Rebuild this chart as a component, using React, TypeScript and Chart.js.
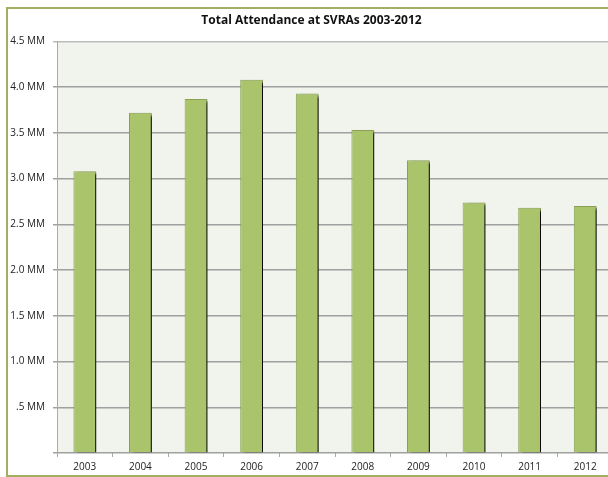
import React, { useEffect, useRef } from "react";
import { Chart, registerables } from "chart.js";

Chart.register(...registerables);

const categories = ["2003", "2004", "2005", "2006", "2007", "2008", "2009", "2010", "2011", "2012"];
const attendanceMM = [3.08, 3.72, 3.87, 4.08, 3.93, 3.53, 3.2, 2.74, 2.68, 2.7];
const yTickLabels = ["", ".5 MM", "1.0 MM", "1.5 MM", "2.0 MM", "2.5 MM", "3.0 MM", "3.5 MM", "4.0 MM", "4.5 MM"];
const titleText = "Total Attendance at SVRAs 2003-2012";

const FONT = "'Open Sans', 'Noto Sans', sans-serif";
const CANVAS_W = 700;

const plotBg = {
  id: "plotBg",
  beforeDraw(chart: any) {
    const { ctx, chartArea } = chart;
    ctx.save();
    ctx.fillStyle = "#f1f3ed";
    ctx.fillRect(chartArea.left, chartArea.top, chart.width - chartArea.left, chartArea.bottom - chartArea.top);
    ctx.restore();
  },
  afterDraw(chart: any) {
    const ctx = chart.ctx;
    ctx.save();
    ctx.strokeStyle = "#a4ae62";
    ctx.lineWidth = 2;
    ctx.beginPath();
    ctx.moveTo(chart.width + 10, 8);
    ctx.lineTo(7, 8);
    ctx.lineTo(7, 476);
    ctx.lineTo(chart.width + 10, 476);
    ctx.stroke();
    ctx.restore();
  },
};

const barShadow = {
  id: "barShadow",
  beforeDatasetsDraw(chart: any) {
    const ctx = chart.ctx;
    ctx.save();
    ctx.shadowColor = "rgba(10,10,10,1)";
    ctx.shadowOffsetX = 4;
    ctx.shadowOffsetY = 2;
    ctx.shadowBlur = 2;
  },
  afterDatasetsDraw(chart: any) {
    chart.ctx.restore();
  },
};

export default function App() {
  const ref = useRef<HTMLCanvasElement | null>(null);

  useEffect(() => {
    if (!ref.current) return;
    const chart = new Chart(ref.current, {
      type: "bar",
      data: {
        labels: categories,
        datasets: [
          {
            data: attendanceMM,
            backgroundColor: "#a9c46b",
            borderColor: "#8aa154",
            borderWidth: 1,
            categoryPercentage: 1,
            barPercentage: 0.41,
          },
        ],
      },
      options: {
        responsive: false,
        animation: false,
        layout: { padding: { left: 10, right: CANVAS_W - 613, top: 0, bottom: 0 } },
        plugins: {
          legend: { display: false },
          tooltip: { enabled: false },
          title: {
            display: true,
            text: titleText,
            color: "#111",
            font: { family: FONT, size: 12, weight: "bold" },
            padding: { top: 13.5, bottom: 13.5 },
          },
        },
        scales: {
          x: {
            grid: {
              display: true,
              drawOnChartArea: false,
              drawTicks: true,
              tickLength: 4,
              color: "#aaaaaa",
              lineWidth: 1,
            },
            border: { display: false },
            ticks: {
              color: "#222",
              font: { family: FONT, size: 10 },
              padding: 4,
              maxRotation: 0,
            },
            afterFit(scale: any) {
              scale.height = 24;
            },
          },
          y: {
            min: 0,
            max: 4.5,
            grid: {
              color: (c: any) => (c.index === 9 ? "#bdbdbd" : "#a0a0a0"),
              lineWidth: 1.5,
              tickLength: 4,
            },
            border: { display: true, color: "#aaaaaa", width: 1 },
            ticks: {
              stepSize: 0.5,
              color: "#222",
              font: { family: FONT, size: 10 },
              padding: 8,
              callback: (_v: any, i: number) => yTickLabels[i],
            },
            afterFit(scale: any) {
              scale.width = 47;
            },
          },
        },
      },
      plugins: [plotBg, barShadow],
    } as any);
    return () => chart.destroy();
  }, []);

  return (
    <div style={{ position: "fixed", left: 0, top: 0, width: 720, height: 477, overflow: "hidden", background: "#fff" }}>
      <canvas ref={ref} width={CANVAS_W} height={477} style={{ position: "absolute", left: 0, top: 0, display: "block" }} />
    </div>
  );
}
